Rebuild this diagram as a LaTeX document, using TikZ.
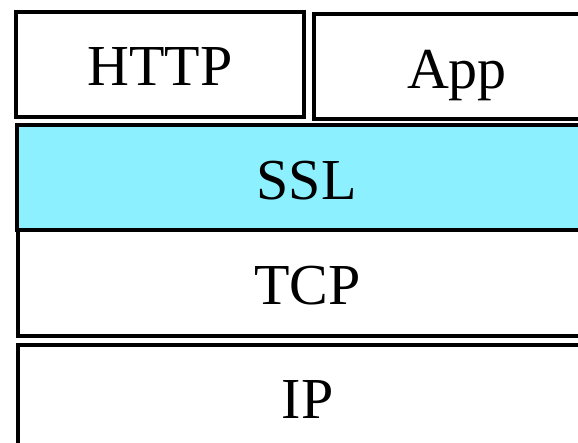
\documentclass[tikz,border=0pt]{standalone}
\usepackage{fontspec}
\setmainfont{Liberation Serif}
\definecolor{sslcyan}{RGB}{140, 240, 255}
\tikzset{
  layer/.style={draw=black, line width=4pt, fill=white, inner sep=0pt,
                font=\fontsize{58}{58}\selectfont, text height=43pt, text depth=0pt},
}

\begin{document}
\begin{tikzpicture}[x=1pt, y=-1pt]
            \useasboundingbox                                              (0, 0) rectangle (578, 442);
            \node[layer, minimum width=288pt, minimum height=105pt]        (http) at (160.0,  64.0) {HTTP};
            \node[layer, minimum width=286pt, minimum height=105pt]        (app)  at (457.0,  66.5) {App};
            \node[layer, fill=sslcyan, minimum width=580pt, minimum height=105pt] (ssl) at (306.5, 177.5) {SSL};
            \node[layer, minimum width=579pt, minimum height=106pt]        (tcp)  at (307.5, 283.0) {TCP};
            \node[layer, minimum width=579pt, minimum height=105pt]        (ip)   at (307.5, 397.0) {IP};
            \end{tikzpicture}
\end{document}
